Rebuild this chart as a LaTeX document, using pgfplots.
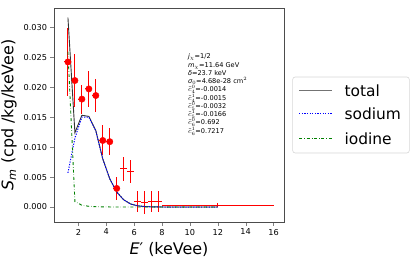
\documentclass[border=0pt]{standalone}
\usepackage{pgfplots}
\pgfplotsset{compat=1.18}
\usepackage{pgfplotstable}
\usepackage{fontspec}
\setmainfont{DejaVu Sans}
\definecolor{legframe}{RGB}{215,215,215}
\definecolor{mplgreen}{RGB}{0,128,0}
\definecolor{mplblue}{RGB}{0,0,255}

\pgfplotstableread{
x y ex ey
1.25 0.0242 0.25 0.0057
1.75 0.0211 0.25 0.0044
2.25 0.0180 0.25 0.0024
2.75 0.0197 0.25 0.0030
3.25 0.0186 0.25 0.0028
3.75 0.0111 0.25 0.0025
4.25 0.0109 0.25 0.0023
4.75 0.0031 0.25 0.0019
}\marked

\pgfplotstableread{
x y ex ey
5.25 0.0064 0.25 0.0020
5.75 0.0059 0.25 0.0019
6.25 0.0009 0.25 0.0017
6.75 0.0007 0.25 0.0019
7.25 0.0009 0.25 0.0017
7.75 0.0009 0.25 0.0017
12.0 0.0003 4.00 0.0003
}\unmarked

\pgfplotstableread{
x total sodium iodine
1.25 0.0316 0.0057 0.0259
1.75 0.0124 0.0115 0.0009
2.25 0.0153 0.0150 0.0003
2.75 0.01512 0.0150 0.00012
3.25 0.01275 0.0127 0.00005
3.75 0.00802 0.0080 0.00002
4.25 0.00471 0.0047 0.00001
4.75 0.0025 0.0025 0.0
5.25 0.0012 0.0012 0.0
5.75 0.0005 0.0005 0.0
6.25 0.0002 0.0002 0.0
6.75 0.00008 0.00008 0.0
7.25 0.00003 0.00003 0.0
7.75 0.00001 0.00001 0.0
8.25 0.0 0.0 0.0
9.0 0.0 0.0 0.0
10.0 0.0 0.0 0.0
11.0 0.0 0.0 0.0
12.0 0.0 0.0 0.0
}\curves

\begin{document}
\begin{tikzpicture}
\useasboundingbox (0,0) rectangle (415bp,262bp);
\begin{axis}[
  at={(54bp,40bp)}, anchor=south west,
  scale only axis, width=230bp, height=214bp,
  clip=false,
  xmin=0.25, xmax=16.75, ymin=-0.0025, ymax=0.0332,
  xtick={2,4,6,8,10,12,14,16},
  ytick={0,0.005,0.01,0.015,0.02,0.025,0.03},
  scaled y ticks=false,
  yticklabel style={/pgf/number format/.cd, fixed, fixed zerofill, precision=3},
  /pgf/number format/assume math mode=true,
  tick align=outside, major tick length=3.5bp, tick pos=left,
  tick label style={font=\fontsize{8.2}{10}\selectfont},
  every axis label/.append style={font=\fontsize{16}{19}\selectfont},
  xlabel={\textit{E}′ (keVee)},
  ylabel={\textit{S}\textsubscript{\textit{m}} (cpd /kg/keVee)},
  axis line style={black!70, line width=0.6bp},
]
\addplot[forget plot, draw=none, mark=*, mark size=3.2bp, red, mark options={fill=red, draw=red, solid},
  error bars/.cd, x dir=both, x explicit, y dir=both, y explicit, error mark=none,
  error bar style={draw=red, solid, line width=1.1bp}]
  table[x=x, y=y, x error=ex, y error=ey] {\marked};
\addplot[forget plot, draw=none, mark=none,
  error bars/.cd, x dir=both, x explicit, y dir=both, y explicit, error mark=none,
  error bar style={draw=red, solid, line width=1.1bp}]
  table[x=x, y=y, x error=ex, y error=ey] {\unmarked};
\addplot[draw=black!80, line width=0.9bp, mark=none] table[x=x, y=total] {\curves};
\addplot[draw=mplblue, dash pattern=on 1.2bp off 1.4bp, line width=1bp, mark=none] table[x=x, y=sodium] {\curves};
\addplot[draw=mplgreen, dash dot, line width=0.9bp, mark=none] table[x=x, y=iodine] {\curves};
\node[anchor=north west, inner sep=0pt, align=left, font=\fontsize{6.6}{8.3}\selectfont]
  at (axis cs:9.85,0.0256) {%
  \textit{j}$_{\chi}$=1/2\\
  \textit{m}$_{\chi}$=11.64 GeV\\
  \textit{δ}=23.7 keV\\
  \textit{σ}$_{0}$=4.68e-28 cm$^{2}$\\
  $\tilde{c}^{0}_{4}$=-0.0014\\
  $\tilde{c}^{1}_{4}$=-0.0015\\
  $\tilde{c}^{0}_{5}$=-0.0032\\
  $\tilde{c}^{1}_{5}$=-0.0166\\
  $\tilde{c}^{0}_{6}$=0.692\\
  $\tilde{c}^{1}_{6}$=0.7217};
% legend
\draw[draw=legframe, line width=0.6bp, rounded corners=2.5bp, fill=white]
  (axis description cs:1.0378,0.3224) rectangle (axis description cs:1.5448,0.6776);
\draw[draw=black!55, line width=1bp] (axis description cs:1.0665,0.6136) -- (axis description cs:1.2074,0.6136);
\draw[draw=mplblue, dash pattern=on 1.2bp off 1.4bp, line width=1bp] (axis description cs:1.0665,0.5079) -- (axis description cs:1.2074,0.5079);
\draw[draw=mplgreen, dash dot, line width=0.9bp] (axis description cs:1.0665,0.3911) -- (axis description cs:1.2074,0.3911);
\node[anchor=west, inner sep=0pt, font=\fontsize{15.5}{18}\selectfont] at (axis description cs:1.2622,0.6136) {total};
\node[anchor=west, inner sep=0pt, font=\fontsize{15.5}{18}\selectfont] at (axis description cs:1.2622,0.5079) {sodium};
\node[anchor=west, inner sep=0pt, font=\fontsize{15.5}{18}\selectfont] at (axis description cs:1.2622,0.3911) {iodine};
\end{axis}
\end{tikzpicture}
\end{document}
